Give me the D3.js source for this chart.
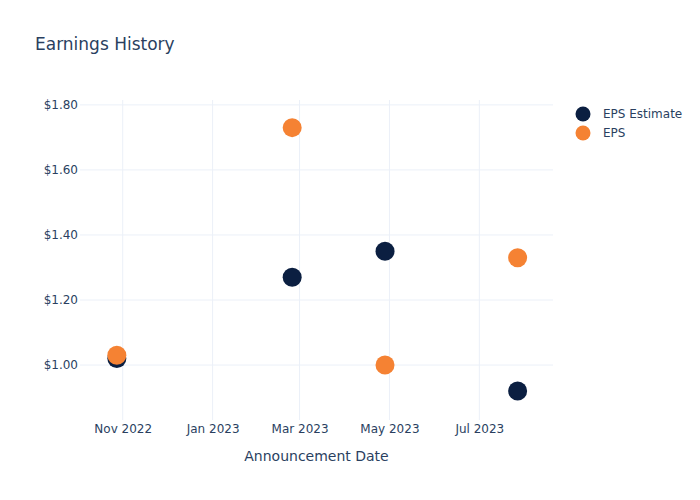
<!DOCTYPE html>
<html><head><meta charset="utf-8">
<script src="https://cdn.jsdelivr.net/npm/d3@7"></script>
<style>body{margin:0;background:#fff;font-family:"DejaVu Sans",sans-serif;}</style>
</head><body><svg id="c" width="700" height="500"></svg>
<script>
const dates = ["2022-10-28","2023-02-24","2023-04-28","2023-07-27"];
const epsEstimate = [1.02, 1.27, 1.35, 0.92];
const eps = [1.03, 1.73, 1.00, 1.33];
const yTicks = [1.0, 1.2, 1.4, 1.6, 1.8];
const xTicks = ["2022-11-01","2023-01-01","2023-03-01","2023-05-01","2023-07-01"];
const seriesNames = ["EPS Estimate","EPS"];
const colors = ["#0b1f41","#f58233"];

const FONT = "'DejaVu Sans',sans-serif";
const parse = d3.utcParse("%Y-%m-%d");
const svg = d3.select("#c");
const L=80, R=553, T=100, B=420;
const x = d3.scaleUtc().domain([parse("2022-10-03"), parse("2023-08-20")]).range([L,R]);
const y = d3.scaleLinear().domain([0.831, 1.815]).range([B,T]);
const txt = "#2a3f5f", grid = "#ebf0f8";

// grid
svg.append("g").selectAll("line").data(xTicks).join("line")
  .attr("x1",d=>x(parse(d))).attr("x2",d=>x(parse(d))).attr("y1",T).attr("y2",B)
  .attr("stroke",grid).attr("stroke-width",1);
svg.append("g").selectAll("line").data(yTicks).join("line")
  .attr("x1",L).attr("x2",R).attr("y1",d=>y(d)).attr("y2",d=>y(d))
  .attr("stroke",grid).attr("stroke-width",1);

// axes
const xa = svg.append("g").attr("transform",`translate(0,${B})`)
  .call(d3.axisBottom(x).tickValues(xTicks.map(parse)).tickFormat(d3.utcFormat("%b %Y")).tickSize(0).tickPadding(4));
const ya = svg.append("g").attr("transform",`translate(${L},0)`)
  .call(d3.axisLeft(y).tickValues(yTicks).tickFormat(d=>"$"+d.toFixed(2)).tickSize(0).tickPadding(2));
[xa,ya].forEach(a=>{a.select(".domain").remove();a.selectAll("text").attr("fill",txt).attr("font-size",12).attr("font-family",FONT);});

// points
const series=[epsEstimate, eps];
series.forEach((vals,i)=>{
  svg.append("g").selectAll("circle").data(vals).join("circle")
    .attr("cx",(d,j)=>x(parse(dates[j]))).attr("cy",d=>y(d)).attr("r",9.5)
    .attr("fill",colors[i]);
});

// title
svg.append("text").attr("x",35).attr("y",50).text("Earnings History")
  .attr("fill",txt).attr("font-size",17).attr("font-family",FONT);
svg.append("text").attr("x",(L+R)/2).attr("y",461).attr("text-anchor","middle").text("Announcement Date")
  .attr("fill",txt).attr("font-size",14).attr("font-family",FONT);

// legend
const lg = svg.append("g");
seriesNames.forEach((n,i)=>{
  lg.append("circle").attr("cx",583).attr("cy",114+i*19).attr("r",7.5).attr("fill",colors[i]);
  lg.append("text").attr("x",603).attr("y",114+i*19).attr("dy","0.35em").text(n)
    .attr("fill",txt).attr("font-size",12).attr("font-family",FONT);
});
</script></body></html>
